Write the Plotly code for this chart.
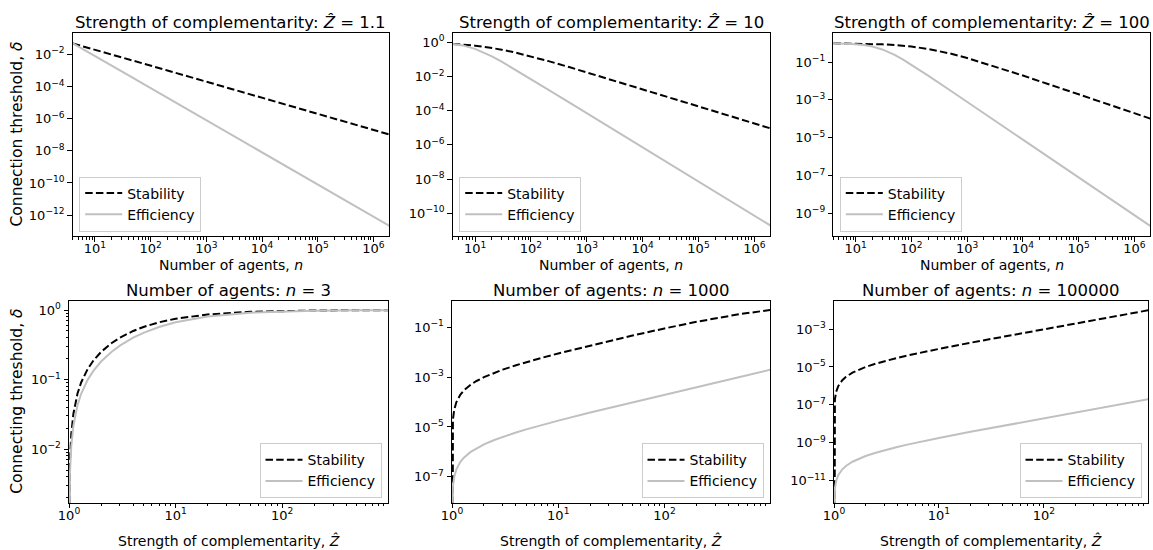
import plotly.graph_objects as go

W, H = 1153, 550

# ---------------- data: top row (x = number of agents n) ----------------
n_agents = [4, 6, 10, 15, 20, 30, 50, 70, 100, 200, 500, 1e3, 1e4, 1e5, 1e6, 2e6]
z_hat_titles = ["1.1", "10", "100"]

stab_Z1p1 = [0.04762, 0.03226, 0.01961, 0.01316, 0.0099, 0.006623, 0.003984, 0.002849,
             0.001996, 9.99e-4, 4.0e-4, 2.0e-4, 2.0e-5, 2.0e-6, 2.0e-7, 1.0e-7]
eff_Z1p1 = [0.04762, 0.02174, 0.007937, 0.003543, 0.001996, 8.881e-4, 3.199e-4, 1.632e-4,
            8.0e-5, 2.0e-5, 3.2e-6, 8.0e-7, 8.0e-9, 8.0e-11, 8.0e-13, 2.0e-13]
stab_Z10 = [0.8182, 0.75, 0.6429, 0.5455, 0.4737, 0.375, 0.2647, 0.2045,
            0.1525, 0.08257, 0.03475, 0.01768, 1.797e-3, 1.8e-4, 1.8e-5, 9.0e-6]
eff_Z10 = [0.8182, 0.6667, 0.4186, 0.2424, 0.1525, 0.07407, 0.02799, 0.01448,
           0.007149, 1.797e-3, 2.879e-4, 7.199e-5, 7.2e-7, 7.2e-9, 7.2e-11, 1.8e-11]
stab_Z100 = [0.9802, 0.9706, 0.9519, 0.9296, 0.9083, 0.8684, 0.7984, 0.7388,
             0.6644, 0.4975, 0.2837, 0.1653, 0.01942, 1.976e-3, 1.98e-4, 9.9e-5]
eff_Z100 = [0.9802, 0.9565, 0.8879, 0.7788, 0.6644, 0.4681, 0.2406, 0.1391,
            0.07339, 0.01942, 3.158e-3, 7.914e-4, 7.92e-6, 7.92e-8, 7.92e-10, 1.98e-10]

# ---------------- data: bottom row (x = strength of complementarity Z) ----------------
# (at Z = 1 both thresholds are 0; the curves run down off the bottom of the log axis)
z_strength = [1.0, 1.0105, 1.02, 1.05, 1.1, 1.2, 1.3, 1.5, 1.7, 2, 2.5, 3, 4, 5, 7, 10,
              20, 50, 100, 200, 500, 1000]
n_titles = ["3", "1000", "100000"]

stab_n3 = [1e-30, 0.003488, 0.006623, 0.01639, 0.03226, 0.0625, 0.09091, 0.1429, 0.1892, 0.25,
           0.3333, 0.4, 0.5, 0.5714, 0.6667, 0.75, 0.8636, 0.9423, 0.9706, 0.9851, 0.994, 0.997]
eff_n3 = [1e-30, 0.002328, 0.004425, 0.01099, 0.02174, 0.04255, 0.0625, 0.1, 0.1346, 0.1818,
          0.25, 0.3077, 0.4, 0.4706, 0.5714, 0.6667, 0.8085, 0.9159, 0.9565, 0.9779, 0.9911,
          0.9955]
stab_n1000 = [1e-30, 1.05e-5, 2.0e-5, 5.0e-5, 1.0e-4, 2.0e-4, 3.0e-4, 5.0e-4, 7.0e-4, 9.99e-4,
              1.498e-3, 1.996e-3, 2.991e-3, 3.984e-3, 5.964e-3, 8.92e-3, 1.865e-2, 4.67e-2,
              9.01e-2, 0.166, 0.3329, 0.4997]
eff_n1000 = [1e-30, 2.1e-8, 4e-8, 1e-7, 2e-7, 4e-7, 6e-7, 1e-6, 1.4e-6, 2e-6, 3e-6, 4e-6, 6e-6,
             8e-6, 1.2e-5, 1.8e-5, 3.8e-5, 9.8e-5, 1.98e-4, 3.98e-4, 9.98e-4, 1.994e-3]
stab_n100000 = [1e-30, 1.05e-7, 2e-7, 5e-7, 1e-6, 2e-6, 3e-6, 5e-6, 7e-6, 1e-5, 1.5e-5, 2e-5,
                3e-5, 4e-5, 6e-5, 9e-5, 1.9e-4, 4.9e-4, 9.9e-4, 1.988e-3, 4.965e-3, 9.89e-3]
eff_n100000 = [1e-30, 2.1e-12, 4e-12, 1e-11, 2e-11, 4e-11, 6e-11, 1e-10, 1.4e-10, 2e-10, 3e-10,
               4e-10, 6e-10, 8e-10, 1.2e-9, 1.8e-9, 3.8e-9, 9.8e-9, 1.98e-8, 3.98e-8,
               9.98e-8, 2.0e-7]

# tick exponents per panel
top_x_exps = [1, 2, 3, 4, 5, 6]
bot_x_exps = [0, 1, 2]
y_exps = [
    [-2, -4, -6, -8, -10, -12],
    [0, -2, -4, -6, -8, -10],
    [-1, -3, -5, -7, -9],
    [0, -1, -2],
    [-1, -3, -5, -7],
    [-3, -5, -7, -9, -11],
]

FONT = "DejaVu Sans"
STAB_COLOR = "black"
EFF_COLOR = "silver"


def sup(e):
    s = str(abs(e))
    return "10<sup>" + ("\u2212" if e < 0 else "") + s + "</sup>"


def px_x(p):
    return p / W


def px_y(p):
    return 1 - p / H


# panel geometry in pixels: (left, right, top, bottom)
geom = [
    (72.7, 389.0, 33.0, 236.0),
    (452.7, 770.0, 33.0, 236.0),
    (833.3, 1150.0, 33.0, 236.0),
    (69.0, 388.0, 301.0, 502.7),
    (452.0, 770.0, 301.0, 502.7),
    (834.0, 1148.0, 301.0, 502.7),
]
y_ranges = [
    [-13.3, -0.67],
    [-11.33, 0.55],
    [-10.2, 0.54],
    [-2.77, 0.13],
    [-8.04, 0.056],
    [-12.16, -1.52],
]
top_x_range = [0.6, 6.28]
bot_x_range = [0.0, 2.993]

series = [
    (n_agents, stab_Z1p1, eff_Z1p1),
    (n_agents, stab_Z10, eff_Z10),
    (n_agents, stab_Z100, eff_Z100),
    (z_strength, stab_n3, eff_n3),
    (z_strength, stab_n1000, eff_n1000),
    (z_strength, stab_n100000, eff_n100000),
]

fig = go.Figure()
layout = dict(
    width=W, height=H,
    margin=dict(l=0, r=0, t=0, b=0, autoexpand=False),
    paper_bgcolor="white", plot_bgcolor="white",
    font=dict(family=FONT, color="black"),
    annotations=[],
)

minor_top_x = [m * 10 ** k for k in range(0, 7) for m in range(2, 10)]
minor_bot_x = [m * 10 ** k for k in range(0, 3) for m in range(2, 10)]
minor_bl_y = [m * 10.0 ** k for k in range(-3, 0) for m in range(2, 10)]

for i in range(6):
    idx = i + 1
    sx = "" if idx == 1 else str(idx)
    l, r, t, b = geom[i]
    top = i < 3
    x_exps = top_x_exps if top else bot_x_exps
    axis_common = dict(
        type="log", showline=True, linecolor="black", linewidth=1, mirror=True,
        showgrid=False, zeroline=False, ticks="outside", ticklen=4.5, tickwidth=1,
        tickcolor="black", tickfont=dict(family=FONT, size=13, color="black"),
        tickmode="array", automargin=False,
    )
    xa = dict(axis_common)
    xa.update(
        domain=[px_x(l), px_x(r)], anchor="y" + sx,
        range=top_x_range if top else bot_x_range,
        tickvals=[10.0 ** e for e in x_exps], ticktext=[sup(e) for e in x_exps],
        ticklabelstandoff=-4,
        minor=dict(tickmode="array", tickvals=minor_top_x if top else minor_bot_x,
                   ticks="outside", ticklen=2.5, tickwidth=0.8, tickcolor="black",
                   showgrid=False),
    )
    ya = dict(axis_common)
    ya.update(
        domain=[px_y(b), px_y(t)], anchor="x" + sx,
        range=y_ranges[i],
        tickvals=[10.0 ** e for e in y_exps[i]], ticktext=[sup(e) for e in y_exps[i]],
    )
    if i == 3:
        ya["minor"] = dict(tickmode="array", tickvals=minor_bl_y, ticks="outside",
                           ticklen=2.5, tickwidth=0.8, tickcolor="black", showgrid=False)
    layout["xaxis" + sx] = xa
    layout["yaxis" + sx] = ya

    leg = "legend" + sx
    xs, st, ef = series[i]
    fig.add_trace(go.Scatter(
        x=xs, y=st, mode="lines", name="Stability", legend=leg,
        xaxis="x" + sx, yaxis="y" + sx,
        line=dict(color=STAB_COLOR, width=2, dash="7.5px,3.2px"),
    ))
    fig.add_trace(go.Scatter(
        x=xs, y=ef, mode="lines", name="Efficiency", legend=leg,
        xaxis="x" + sx, yaxis="y" + sx,
        line=dict(color=EFF_COLOR, width=2),
    ))

    if top:
        lx, ly = l + 6.5, b - 4.5
        legend_pos = dict(x=px_x(lx), y=px_y(ly), xanchor="left", yanchor="bottom")
    else:
        lx, ly = r - 6.5, b - 4.5
        legend_pos = dict(x=px_x(lx), y=px_y(ly), xanchor="right", yanchor="bottom")
    layout[leg] = dict(
        legend_pos,
        bgcolor="rgba(255,255,255,0.8)", bordercolor="#cccccc", borderwidth=1,
        font=dict(family=FONT, size=14, color="black"),
        tracegroupgap=0, itemwidth=37,
    )

    cx = px_x((l + r) / 2)
    if top:
        title = "Strength of complementarity: <i>\u1E90</i> = " + z_hat_titles[i]
        xlab = "Number of agents, <i>n</i>"
        xlab_y = 265
    else:
        title = "Number of agents: <i>n</i> = " + n_titles[i - 3]
        xlab = "Strength of complementarity, <i>\u1E90</i>"
        xlab_y = 540
    layout["annotations"].append(dict(
        text=title, x=cx, y=px_y(t), xref="paper", yref="paper",
        xanchor="center", yanchor="bottom", yshift=-1, showarrow=False,
        font=dict(family=FONT, size=16.5, color="black"),
    ))
    layout["annotations"].append(dict(
        text=xlab, x=cx, y=px_y(xlab_y), xref="paper", yref="paper",
        xanchor="center", yanchor="middle", showarrow=False,
        font=dict(family=FONT, size=14, color="black"),
    ))

# y-axis labels (left column only)
for (l, r, t, b), lab in [(geom[0], "Connection threshold, <i>\u03B4</i>"),
                          (geom[3], "Connecting threshold, <i>\u03B4</i>")]:
    layout["annotations"].append(dict(
        text=lab, x=px_x(17), y=px_y((t + b) / 2), xref="paper", yref="paper",
        xanchor="center", yanchor="middle", textangle=-90, showarrow=False,
        font=dict(family=FONT, size=15.5, color="black"),
    ))

fig.update_layout(**layout)
fig.write_html(
    "out.html",
    config={"displayModeBar": False},
    post_script="document.body.style.margin='0';document.body.style.overflow='hidden';",
)
